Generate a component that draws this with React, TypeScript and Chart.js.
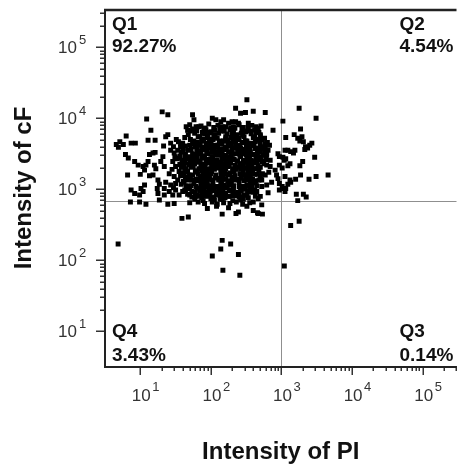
import React, { useEffect, useRef } from 'react';
import { Chart, registerables } from 'chart.js';

Chart.register(...registerables);

// ---------- text ----------
const xAxisTitle = 'Intensity of PI';
const yAxisTitle = 'Intensity of cF';
const decadeExponents = [1, 2, 3, 4, 5];
const quadrantNames = ['Q1', 'Q2', 'Q3', 'Q4'];
const quadrantPercents = ['92.27%', '4.54%', '0.14%', '3.43%'];

// ---------- gates / ranges (data units) ----------
const gatePI = 1000;
const gateCF = 676;
const xLogRange = [0.5, 5.479];
const yLogRange = [0.511, 5.525];

// ---------- events: [log10 PI, log10 cF] ----------
const q1Wing: number[][] = [
  [1.31, 4.09], [1.39, 4.05], [1.09, 3.99], [1.15, 3.83], [0.80, 3.75], [1.11, 3.69], [1.21, 3.69],
  [1.36, 3.74], [1.39, 3.77], [0.71, 3.67], [0.76, 3.63], [0.69, 3.59], [0.66, 3.63], [0.87, 3.65],
  [0.93, 3.65], [1.18, 3.51], [1.13, 3.49], [1.21, 3.52], [1.33, 3.61], [0.79, 3.49], [0.83, 3.44],
  [0.92, 3.39], [0.97, 3.34], [1.04, 3.32], [1.08, 3.34], [1.11, 3.39], [1.20, 3.34], [1.22, 3.29],
  [1.06, 3.27], [0.82, 3.20], [1.00, 3.21], [1.13, 3.19], [1.18, 3.20], [1.25, 3.13], [1.27, 3.07],
  [1.24, 3.01], [1.25, 2.94], [0.87, 2.99], [0.92, 2.94], [0.99, 2.92], [1.04, 2.97], [1.06, 3.06],
  [1.01, 3.01], [1.27, 2.85], [1.34, 2.92], [1.41, 2.97], [1.46, 2.92], [1.34, 3.01], [1.36, 3.10],
  [1.43, 3.06], [1.32, 3.46], [1.29, 3.39], [1.34, 3.32], [1.43, 3.55], [1.48, 3.51], [1.53, 3.44],
  [1.46, 3.39], [1.50, 3.32], [1.55, 3.25], [1.48, 3.18], [1.41, 3.22], [1.53, 3.13], [1.60, 2.97],
  [1.50, 2.99], [1.55, 2.92], [1.43, 3.65],
  [1.47, 3.60], [1.49, 3.46], [1.45, 3.28], [1.50, 3.08], [1.47, 3.02], [1.51, 3.70],
];

const q1Top: number[][] = [
  [1.74, 4.05], [1.76, 3.98], [2.02, 4.00], [2.07, 3.98], [2.14, 3.95], [2.18, 3.98], [2.25, 3.93],
  [2.30, 3.95], [2.32, 3.88], [2.28, 3.86], [1.65, 3.88], [1.67, 3.83], [1.83, 3.88], [1.90, 3.86],
  [2.51, 4.26], [2.35, 4.14], [2.42, 4.07], [2.49, 4.08], [2.60, 4.10], [2.77, 4.08], [2.35, 3.95],
  [2.39, 3.93], [2.53, 3.93], [2.67, 3.86], [2.88, 3.83], [2.66, 3.85], [2.70, 3.77],
];

const q1Right: number[][] = [
  [2.81, 3.55], [2.79, 3.50], [2.95, 3.50], [2.97, 3.46], [2.93, 3.20], [2.95, 3.15], [2.84, 3.41],
  [2.79, 3.34], [2.72, 3.39], [2.77, 3.20], [2.72, 3.04], [2.70, 2.90], [2.77, 3.58], [2.79, 3.48],
  [2.74, 3.39], [2.84, 3.32], [2.72, 3.13], [2.79, 3.06], [2.65, 2.97], [2.67, 2.87], [2.97, 3.34],
  [2.91, 3.27], [2.97, 3.08], [2.97, 2.99], [2.63, 2.90],
  [2.83, 3.62], [2.82, 3.24], [2.86, 3.10], [2.81, 2.95],
];

const q1Core: number[][] = [
  [1.70, 3.91], [1.86, 3.89], [1.97, 3.92], [2.10, 3.90], [2.21, 3.88], [2.40, 3.91], [2.46, 3.87], [2.58, 3.90], [2.71, 3.89],
  [1.74, 3.85], [1.80, 3.82], [1.93, 3.84], [2.06, 3.83], [2.13, 3.85], [2.19, 3.82], [2.27, 3.84], [2.44, 3.85], [2.52, 3.82], [2.62, 3.84],
  [1.68, 3.77], [1.77, 3.79], [1.91, 3.78], [1.98, 3.80], [2.04, 3.77], [2.11, 3.79], [2.23, 3.78], [2.30, 3.80], [2.37, 3.77], [2.43, 3.79], [2.57, 3.78], [2.64, 3.80],
  [1.63, 3.73], [1.71, 3.70], [1.84, 3.74], [1.90, 3.71], [1.96, 3.73], [2.03, 3.70], [2.09, 3.72], [2.21, 3.71], [2.28, 3.73], [2.34, 3.70], [2.40, 3.72], [2.47, 3.74], [2.60, 3.73], [2.68, 3.70], [2.76, 3.72],
  [1.54, 3.67], [1.60, 3.65], [1.74, 3.64], [1.81, 3.66], [1.87, 3.68], [1.94, 3.65], [2.00, 3.67], [2.12, 3.66], [2.18, 3.68], [2.25, 3.65], [2.31, 3.67], [2.44, 3.66], [2.51, 3.68], [2.57, 3.65], [2.63, 3.67], [2.70, 3.64], [2.80, 3.66],
  [1.57, 3.59], [1.64, 3.61], [1.77, 3.60], [1.83, 3.62], [1.89, 3.59], [1.96, 3.61], [2.02, 3.58], [2.08, 3.60], [2.20, 3.59], [2.27, 3.61], [2.33, 3.58], [2.39, 3.60], [2.52, 3.59], [2.59, 3.61], [2.66, 3.58], [2.73, 3.60],
  [1.53, 3.55], [1.61, 3.53], [1.68, 3.55], [1.81, 3.54], [1.88, 3.56], [1.94, 3.53], [2.07, 3.52], [2.13, 3.54], [2.19, 3.56], [2.25, 3.53], [2.38, 3.52], [2.44, 3.54], [2.50, 3.56], [2.56, 3.53], [2.70, 3.52], [2.76, 3.54],
  [1.56, 3.47], [1.70, 3.46], [1.77, 3.48], [1.84, 3.50], [1.90, 3.47], [2.03, 3.46], [2.10, 3.48], [2.16, 3.50], [2.22, 3.47], [2.29, 3.49], [2.41, 3.48], [2.47, 3.50], [2.54, 3.47], [2.60, 3.49], [2.74, 3.48],
  [1.52, 3.43], [1.59, 3.41], [1.66, 3.43], [1.80, 3.42], [1.87, 3.44], [1.93, 3.41], [2.00, 3.43], [2.06, 3.40], [2.19, 3.44], [2.25, 3.41], [2.31, 3.43], [2.38, 3.40], [2.51, 3.44], [2.57, 3.41], [2.64, 3.43], [2.78, 3.42],
  [1.56, 3.35], [1.63, 3.37], [1.77, 3.36], [1.83, 3.38], [1.90, 3.35], [1.96, 3.37], [2.09, 3.36], [2.15, 3.38], [2.22, 3.35], [2.28, 3.37], [2.41, 3.36], [2.48, 3.38], [2.54, 3.35], [2.61, 3.37], [2.75, 3.36],
  [1.58, 3.31], [1.65, 3.29], [1.72, 3.31], [1.86, 3.30], [1.92, 3.32], [1.99, 3.29], [2.05, 3.31], [2.18, 3.30], [2.24, 3.32], [2.31, 3.29], [2.37, 3.31], [2.50, 3.30], [2.57, 3.32], [2.63, 3.29], [2.70, 3.31],
  [1.60, 3.23], [1.67, 3.25], [1.81, 3.24], [1.88, 3.26], [1.94, 3.23], [2.01, 3.25], [2.14, 3.24], [2.20, 3.26], [2.27, 3.23], [2.33, 3.25], [2.46, 3.24], [2.53, 3.26], [2.59, 3.23], [2.73, 3.22],
  [1.57, 3.19], [1.64, 3.17], [1.71, 3.19], [1.85, 3.18], [1.91, 3.20], [1.98, 3.17], [2.11, 3.16], [2.17, 3.18], [2.24, 3.20], [2.30, 3.17], [2.43, 3.16], [2.50, 3.18], [2.56, 3.20], [2.70, 3.19],
  [1.61, 3.11], [1.68, 3.13], [1.82, 3.12], [1.89, 3.14], [1.95, 3.11], [2.02, 3.13], [2.15, 3.12], [2.21, 3.14], [2.28, 3.11], [2.34, 3.13], [2.47, 3.12], [2.54, 3.14], [2.61, 3.11], [2.68, 3.13],
  [1.58, 3.07], [1.65, 3.05], [1.79, 3.04], [1.86, 3.06], [1.93, 3.08], [1.99, 3.05], [2.12, 3.04], [2.19, 3.06], [2.25, 3.08], [2.32, 3.05], [2.45, 3.04], [2.51, 3.06], [2.58, 3.08], [2.65, 3.05],
  [1.63, 2.99], [1.70, 3.01], [1.84, 3.00], [1.90, 3.02], [1.97, 2.99], [2.03, 3.01], [2.16, 3.00], [2.23, 3.02], [2.29, 2.99], [2.42, 2.98], [2.49, 3.00], [2.56, 3.02], [2.62, 2.99],
  [1.67, 2.93], [1.81, 2.92], [1.88, 2.94], [1.95, 2.96], [2.08, 2.95], [2.14, 2.92], [2.21, 2.94], [2.34, 2.93], [2.40, 2.95], [2.47, 2.92], [2.60, 2.96],
  [1.73, 2.89], [1.87, 2.88], [1.94, 2.90], [2.00, 2.87], [2.13, 2.86], [2.20, 2.88], [2.26, 2.90], [2.40, 2.89], [2.46, 2.86], [2.53, 2.88],
];

const q1CoreInner: number[][] = [
  [1.79, 3.88], [1.92, 3.86], [2.04, 3.87], [2.16, 3.88], [2.34, 3.86], [2.53, 3.87], [2.64, 3.88],
  [1.71, 3.82], [1.88, 3.80], [2.00, 3.81], [2.17, 3.82], [2.32, 3.80], [2.49, 3.81], [2.57, 3.82], [2.68, 3.80],
  [1.82, 3.74], [1.95, 3.75], [2.06, 3.76], [2.21, 3.74], [2.34, 3.75], [2.45, 3.76], [2.62, 3.74], [2.70, 3.75],
  [1.76, 3.68], [1.88, 3.69], [1.98, 3.70], [2.13, 3.68], [2.24, 3.69], [2.38, 3.70], [2.49, 3.68], [2.65, 3.69], [2.73, 3.70],
  [1.57, 3.64], [1.70, 3.62], [1.85, 3.63], [2.00, 3.64], [2.10, 3.62], [2.24, 3.63], [2.35, 3.64], [2.50, 3.62], [2.61, 3.63], [2.77, 3.64],
  [1.61, 3.58], [1.72, 3.56], [1.87, 3.57], [1.98, 3.58], [2.11, 3.56], [2.22, 3.57], [2.37, 3.58], [2.47, 3.56], [2.63, 3.57], [2.71, 3.58],
  [1.58, 3.52], [1.74, 3.50], [1.86, 3.51], [2.01, 3.52], [2.12, 3.50], [2.29, 3.51], [2.40, 3.52], [2.54, 3.50], [2.66, 3.51],
  [1.63, 3.46], [1.75, 3.44], [1.91, 3.45], [2.02, 3.46], [2.16, 3.44], [2.27, 3.45], [2.42, 3.46], [2.55, 3.44], [2.69, 3.45],
  [1.60, 3.40], [1.74, 3.38], [1.85, 3.39], [2.00, 3.40], [2.11, 3.38], [2.26, 3.39], [2.37, 3.40], [2.52, 3.38], [2.65, 3.39],
  [1.62, 3.34], [1.75, 3.32], [1.90, 3.33], [2.01, 3.34], [2.15, 3.32], [2.26, 3.33], [2.41, 3.34], [2.52, 3.32], [2.67, 3.33],
  [1.63, 3.28], [1.78, 3.26], [1.90, 3.27], [2.05, 3.28], [2.16, 3.26], [2.31, 3.27], [2.42, 3.28], [2.57, 3.26], [2.68, 3.27],
  [1.62, 3.22], [1.74, 3.20], [1.89, 3.21], [2.00, 3.22], [2.15, 3.20], [2.26, 3.21], [2.41, 3.22], [2.52, 3.20], [2.66, 3.21],
  [1.64, 3.16], [1.79, 3.14], [1.91, 3.15], [2.06, 3.16], [2.17, 3.14], [2.32, 3.15], [2.43, 3.16], [2.59, 3.14], [2.71, 3.15],
  [1.62, 3.10], [1.76, 3.08], [1.88, 3.09], [2.03, 3.10], [2.14, 3.08], [2.29, 3.09], [2.40, 3.10], [2.56, 3.08], [2.63, 3.09],
  [1.67, 3.04], [1.80, 3.02], [1.95, 3.03], [2.06, 3.04], [2.21, 3.02], [2.32, 3.03], [2.47, 3.04], [2.58, 3.02],
  [1.64, 2.98], [1.78, 2.96], [1.90, 2.97], [2.05, 2.98], [2.17, 2.96], [2.32, 2.97], [2.43, 2.98], [2.57, 2.96],
  [1.70, 2.92], [1.83, 2.90], [1.98, 2.91], [2.09, 2.92], [2.25, 2.90], [2.36, 2.91], [2.51, 2.92],
  [1.77, 2.86], [1.89, 2.84], [2.05, 2.85], [2.16, 2.86], [2.31, 2.84], [2.42, 2.85],
];

const q1CoreCentre: number[][] = [
  [1.93, 3.63], [2.05, 3.62], [2.16, 3.64], [2.29, 3.63], [2.41, 3.62], [2.55, 3.64],
  [1.80, 3.57], [1.92, 3.56], [2.05, 3.58], [2.17, 3.57], [2.30, 3.56], [2.42, 3.58], [2.55, 3.57], [2.68, 3.56],
  [1.64, 3.49], [1.80, 3.48], [1.96, 3.50], [2.07, 3.49], [2.19, 3.48], [2.35, 3.50], [2.50, 3.49], [2.64, 3.48],
  [1.70, 3.41], [1.82, 3.40], [1.96, 3.42], [2.09, 3.41], [2.21, 3.40], [2.33, 3.42], [2.46, 3.41], [2.60, 3.40], [2.71, 3.42],
  [1.69, 3.35], [1.86, 3.34], [2.05, 3.36], [2.19, 3.35], [2.34, 3.34], [2.45, 3.36], [2.58, 3.35],
  [1.83, 3.29], [1.96, 3.28], [2.10, 3.30], [2.21, 3.29], [2.35, 3.28], [2.47, 3.30], [2.62, 3.29],
  [1.69, 3.20], [1.82, 3.21], [1.95, 3.19], [2.07, 3.20], [2.20, 3.21], [2.34, 3.19], [2.47, 3.20], [2.62, 3.21],
  [1.73, 3.13], [1.85, 3.12], [1.98, 3.14], [2.11, 3.13], [2.24, 3.12], [2.38, 3.14], [2.50, 3.13], [2.64, 3.12],
  [1.72, 3.05], [1.90, 3.06], [2.02, 3.04], [2.15, 3.05], [2.28, 3.06], [2.40, 3.04], [2.55, 3.05],
  [1.73, 2.97], [1.85, 2.98], [1.99, 2.96], [2.11, 2.97], [2.26, 2.98], [2.38, 2.96], [2.52, 2.97],
  [1.78, 2.90], [1.91, 2.91], [2.04, 2.89], [2.18, 2.90], [2.30, 2.91], [2.44, 2.89],
];

const q2Points: number[][] = [
  [3.25, 4.14], [3.49, 4.00], [3.02, 3.96], [3.27, 3.85], [3.18, 3.77], [3.06, 3.73], [3.23, 3.72],
  [3.29, 3.74], [3.26, 3.68], [3.31, 3.67], [3.43, 3.65], [3.40, 3.62], [3.34, 3.60], [3.37, 3.58],
  [3.33, 3.56], [3.05, 3.55], [3.09, 3.55], [3.13, 3.53], [3.17, 3.51], [3.19, 3.55], [3.47, 3.45],
  [3.02, 3.45], [3.06, 3.43], [3.04, 3.41], [3.30, 3.39], [3.26, 3.33], [3.12, 3.36], [3.09, 3.33],
  [3.66, 3.20], [3.49, 3.18], [3.39, 3.14], [3.27, 3.20], [3.20, 3.14], [3.13, 3.10], [3.09, 3.07],
  [3.05, 3.18], [3.06, 3.01], [3.05, 2.97], [3.21, 2.93], [3.31, 2.93], [3.35, 2.89], [3.23, 2.84],
  [3.01, 3.30], [3.02, 3.01], [3.01, 3.04], [3.12, 3.13],
];

const q3Points: number[][] = [
  [3.13, 2.49], [3.25, 2.55], [3.04, 1.92],
];

const q4Points: number[][] = [
  [1.59, 2.59], [1.68, 2.61], [2.16, 2.65], [2.355, 2.66], [2.39, 2.68], [2.66, 2.67], [2.73, 2.65],
  [0.686, 2.23], [2.16, 2.28], [2.28, 2.23], [2.14, 2.16], [2.39, 2.08], [2.02, 2.06], [2.17, 1.86],
  [2.41, 1.79], [0.86, 2.82], [0.99, 2.82], [1.08, 2.79], [1.39, 2.79], [1.48, 2.80], [2.60, 2.82],
  [2.72, 2.78], [2.60, 2.70], [2.67, 2.66],
  [1.70, 2.81], [1.82, 2.82], [1.91, 2.80], [2.02, 2.82], [2.09, 2.79], [2.18, 2.81], [2.27, 2.80],
  [2.36, 2.82], [2.45, 2.79], [2.55, 2.81], [1.95, 2.73], [2.08, 2.76], [2.25, 2.74], [2.51, 2.76],
];

const FONT = '"Liberation Sans", Arial, Helvetica, sans-serif';

const toPoint = (p: number[]) => ({ x: Math.pow(10, p[0]), y: Math.pow(10, p[1]) });

const flowDecor = {
  id: 'flowDecor',
  beforeDatasetsDraw(chart: any) {
    const { ctx, chartArea: a, scales } = chart;
    const gx = Math.round(scales.x.getPixelForValue(gatePI)) + 0.5;
    const gy = Math.round(scales.y.getPixelForValue(gateCF)) + 0.5;
    ctx.save();
    ctx.strokeStyle = '#8f8f8f';
    ctx.lineWidth = 1;
    ctx.beginPath();
    ctx.moveTo(gx, a.top);
    ctx.lineTo(gx, a.bottom);
    ctx.moveTo(a.left, gy);
    ctx.lineTo(a.right, gy);
    ctx.stroke();
    ctx.restore();
  },
  afterDraw(chart: any) {
    const { ctx, chartArea: a, scales } = chart;
    const xs = scales.x;
    const ys = scales.y;
    ctx.save();

    // ticks
    ctx.strokeStyle = '#333';
    ctx.lineWidth = 1.5;
    ctx.beginPath();
    for (const e of decadeExponents) {
      for (let m = 1; m <= 9; m++) {
        const v = m * Math.pow(10, e);
        const len = m === 1 ? 9 : 5;
        if (v <= xs.max) {
          const px = Math.round(xs.getPixelForValue(v)) + 0.25;
          ctx.moveTo(px, a.bottom);
          ctx.lineTo(px, a.bottom + len);
        }
        if (v <= ys.max) {
          const py = Math.round(ys.getPixelForValue(v)) + 0.25;
          ctx.moveTo(a.left, py);
          ctx.lineTo(a.left - len, py);
        }
      }
    }
    ctx.stroke();

    // frame
    ctx.strokeStyle = '#222';
    ctx.lineWidth = 2;
    ctx.beginPath();
    ctx.moveTo(a.left, a.top - 1);
    ctx.lineTo(a.left, a.bottom + 1);
    ctx.lineTo(a.right, a.bottom + 1);
    ctx.stroke();
    ctx.lineWidth = 2.5;
    ctx.beginPath();
    ctx.moveTo(a.left - 1, a.top);
    ctx.lineTo(a.right, a.top);
    ctx.stroke();

    // tick labels
    ctx.fillStyle = '#333';
    for (const e of decadeExponents) {
      const v = Math.pow(10, e);
      const px = xs.getPixelForValue(v);
      ctx.font = `17px ${FONT}`;
      ctx.textAlign = 'center';
      ctx.textBaseline = 'alphabetic';
      ctx.fillText('10', px + 1, a.bottom + 34.5);
      ctx.font = `13px ${FONT}`;
      ctx.textAlign = 'left';
      ctx.fillText(String(e), px + 12, a.bottom + 24.5);

      const py = ys.getPixelForValue(v);
      ctx.font = `17px ${FONT}`;
      ctx.textAlign = 'right';
      ctx.fillText('10', a.left - 28, py + 6);
      ctx.font = `13px ${FONT}`;
      ctx.textAlign = 'left';
      ctx.fillText(String(e), a.left - 26, py - 3.5);
    }

    // quadrant labels
    ctx.fillStyle = '#111';
    ctx.font = `bold 19px ${FONT}`;
    ctx.textAlign = 'left';
    const lx = a.left + 7;
    const rx = a.right - 57;
    ctx.fillText(quadrantNames[0], lx, a.top + 19.5);
    ctx.fillText(quadrantPercents[0], lx, a.top + 42);
    ctx.fillText(quadrantNames[1], rx, a.top + 19.5);
    ctx.fillText(quadrantPercents[1], rx, a.top + 42);
    ctx.fillText(quadrantNames[3], lx, a.bottom - 29);
    ctx.fillText(quadrantPercents[3], lx, a.bottom - 5.5);
    ctx.fillText(quadrantNames[2], rx, a.bottom - 29);
    ctx.fillText(quadrantPercents[2], rx, a.bottom - 5.5);

    // axis titles
    ctx.fillStyle = '#111';
    ctx.font = `bold 24px ${FONT}`;
    ctx.textAlign = 'center';
    ctx.fillText(xAxisTitle, (a.left + a.right) / 2, 459);
    ctx.translate(31, (a.top + a.bottom) / 2);
    ctx.rotate(-Math.PI / 2);
    ctx.fillText(yAxisTitle, 0, 0);

    ctx.restore();
  },
};

export default function App() {
  const ref = useRef<HTMLCanvasElement>(null);
  useEffect(() => {
    const all = [
      ...q1Wing, ...q1Top, ...q1Right, ...q1Core, ...q1CoreInner, ...q1CoreCentre,
      ...q2Points, ...q3Points, ...q4Points,
    ];
    const chart = new Chart(ref.current as HTMLCanvasElement, {
      type: 'scatter',
      data: {
        datasets: [
          {
            data: all.map(toPoint),
            pointStyle: 'rect',
            pointRadius: 3.5,
            pointHoverRadius: 3.5,
            pointBorderWidth: 0,
            backgroundColor: '#000',
            borderColor: '#000',
          },
        ],
      },
      options: {
        responsive: false,
        devicePixelRatio: 1,
        animation: false,
        layout: { padding: { left: 105, top: 10, right: 0, bottom: 102 } },
        plugins: { legend: { display: false }, tooltip: { enabled: false } },
        events: [],
        scales: {
          x: {
            type: 'logarithmic',
            display: false,
            min: Math.pow(10, xLogRange[0]),
            max: Math.pow(10, xLogRange[1]),
          },
          y: {
            type: 'logarithmic',
            display: false,
            min: Math.pow(10, yLogRange[0]),
            max: Math.pow(10, yLogRange[1]),
          },
        },
      },
      plugins: [flowDecor],
    });
    return () => chart.destroy();
  }, []);
  return (
    <div style={{ position: 'absolute', left: 0, top: 0, width: 460, height: 468, background: '#fff' }}>
      <canvas ref={ref} width={460} height={468} style={{ display: 'block' }} />
    </div>
  );
}
